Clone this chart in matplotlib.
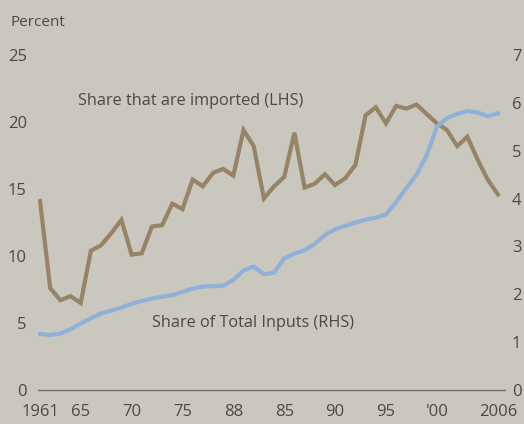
import matplotlib
matplotlib.use('Agg')
import matplotlib.pyplot as plt

# data
years = list(range(1961, 2007))
imported = [14.1, 7.6, 6.7, 7.0, 6.5, 10.4, 10.8, 11.7, 12.7, 10.1,
            10.2, 12.2, 12.3, 13.9, 13.5, 15.7, 15.2, 16.2, 16.5, 16.0,
            19.4, 18.2, 14.3, 15.2, 15.9, 19.2, 15.1, 15.4, 16.1, 15.3,
            15.8, 16.8, 20.5, 21.1, 19.9, 21.2, 21.0, 21.3, 20.6, 19.9,
            19.4, 18.2, 18.9, 17.2, 15.7, 14.6]   # LHS, percent
total_inputs = [1.17, 1.15, 1.18, 1.27, 1.39, 1.5, 1.6, 1.66, 1.72, 1.8,
                1.86, 1.91, 1.95, 1.98, 2.05, 2.12, 2.16, 2.17, 2.18, 2.3,
                2.5, 2.58, 2.42, 2.45, 2.75, 2.85, 2.92, 3.05, 3.24, 3.36,
                3.43, 3.5, 3.56, 3.6, 3.67, 3.93, 4.22, 4.5, 4.9, 5.5,
                5.68, 5.77, 5.83, 5.8, 5.72, 5.78]   # RHS, percent

xtick_years = [1961, 1965, 1970, 1975, 1980, 1985, 1990, 1995, 2000, 2006]
xtick_labels = ['1961', '65', '70', '75', '88', '85', '90', '95', "'00", '2006']
left_ticks = [0, 5, 10, 15, 20, 25]
right_ticks = [0, 1, 2, 3, 4, 5, 6, 7]

bg = '#cac7be'
txt = '#4a4946'
plt.rcParams['font.family'] = ['Open Sans', 'DejaVu Sans']

fig = plt.figure(figsize=(5.24, 4.24), dpi=100)
fig.patch.set_facecolor(bg)
ax = fig.add_axes([38/524, 34/424, 467/524, 335/424])
ax.set_facecolor('none')
ax2 = ax.twinx()

ax.plot(years, imported, color='#978466', lw=3.0, solid_joinstyle='miter', zorder=3)
ax2.plot(years, total_inputs, color='#8fb1d8', lw=3.0, zorder=3)

ax.set_xlim(1960.8, 2006.7)
ax.set_ylim(0, 25)
ax2.set_ylim(0, 7)

for a in (ax, ax2):
    for s in a.spines.values():
        s.set_visible(False)
ax.spines['bottom'].set_visible(True)
ax.spines['bottom'].set_color('#6d6c68')
ax.spines['bottom'].set_linewidth(1.0)

ax.set_xticks(xtick_years)
ax.set_xticklabels(xtick_labels)
ax.set_yticks(left_ticks)
ax2.set_yticks(right_ticks)
ax.tick_params(axis='x', length=0, pad=10, labelsize=12, labelcolor=txt)
ax.tick_params(axis='y', length=0, pad=8, labelsize=12, labelcolor=txt)
ax2.tick_params(axis='y', length=0, pad=5, labelsize=12, labelcolor=txt)

ax.text(1964.7, 21.6, 'Share that are imported (LHS)', fontsize=11.7,
        color=txt, ha='left', va='center')
ax.text(1972.0, 5.0, 'Share of Total Inputs (RHS)', fontsize=11.7,
        color=txt, ha='left', va='center')
fig.text(10/524, 1 - 23/424, 'Percent', fontsize=11, color=txt,
         ha='left', va='center')

fig.savefig('out.png', dpi=100, facecolor=bg)
